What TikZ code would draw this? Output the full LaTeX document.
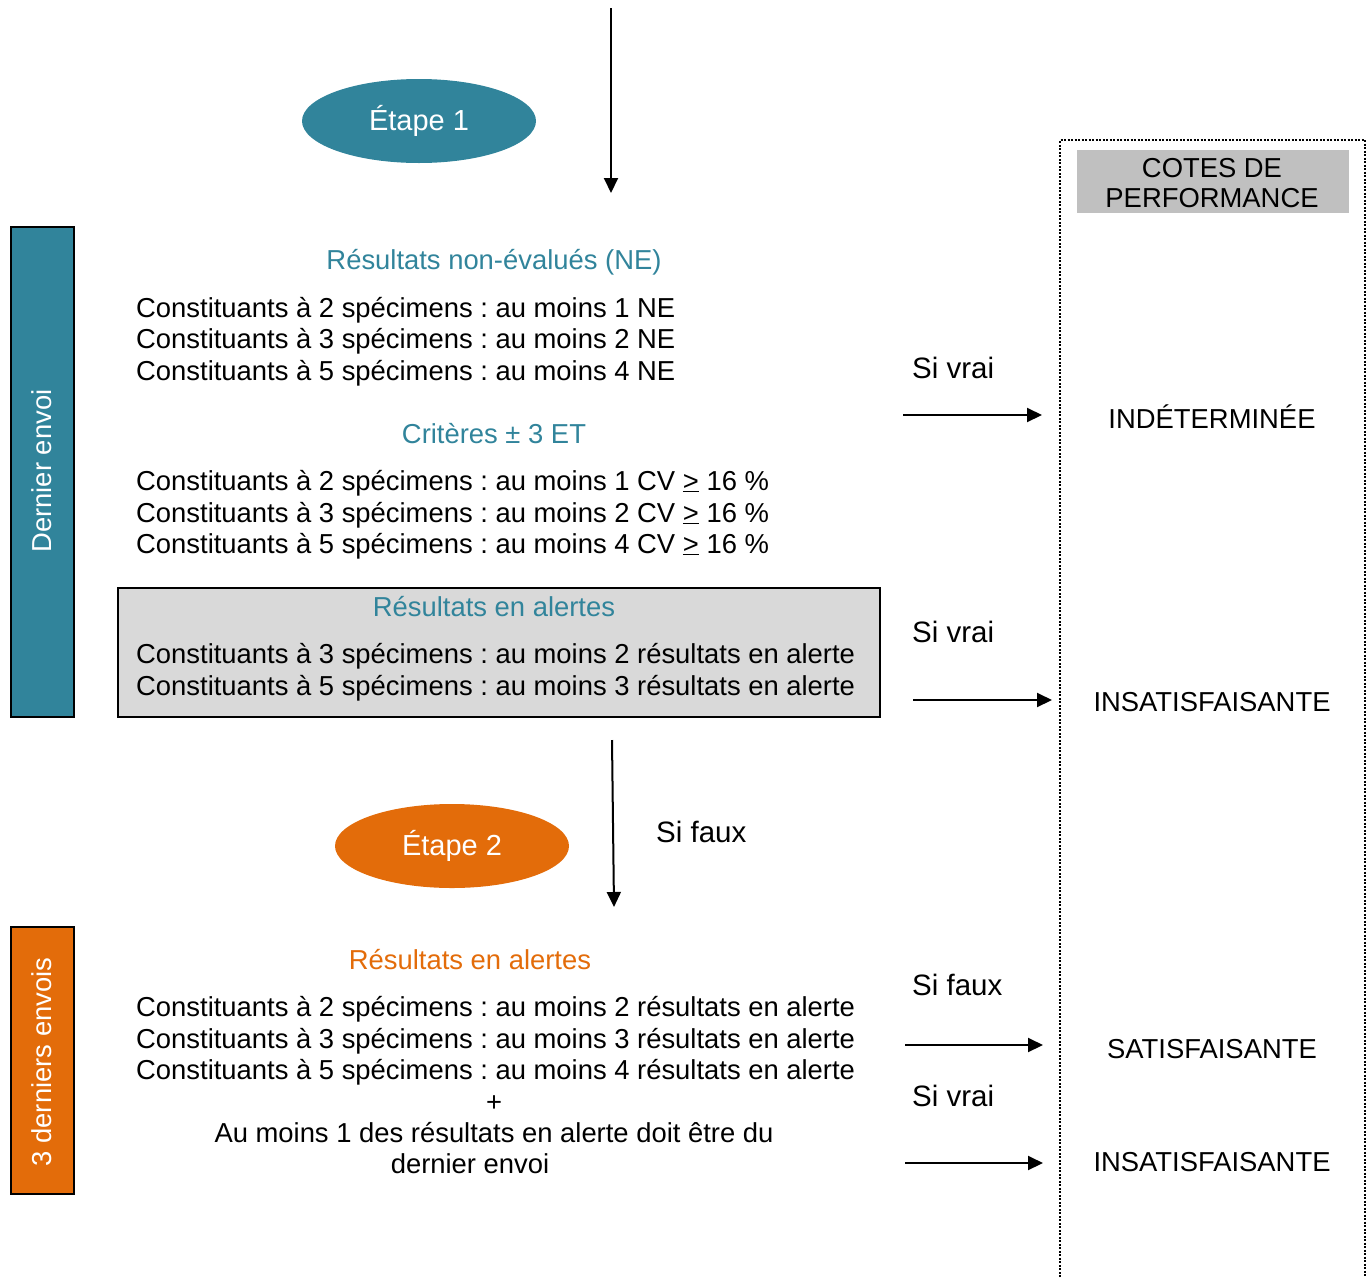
\documentclass[tikz,border=0pt]{standalone}
\usepackage{fontspec}
\setmainfont{Liberation Sans}
\usetikzlibrary{arrows.meta,shapes.geometric}
\definecolor{teal1}{HTML}{31849B}
\definecolor{orange1}{HTML}{E36C0A}
\definecolor{graybox}{HTML}{D9D9D9}
\definecolor{grayhead}{HTML}{C0C0C0}
\frenchspacing
\tikzset{
  txt/.style={font=\fontsize{27.4}{31.5}\selectfont\frenchspacing, inner sep=0pt},
  line/.style={txt, anchor=base west},
  ctr/.style={txt, anchor=base},
  lbl/.style={font=\fontsize{29.5}{33}\selectfont, inner sep=0pt, anchor=base west},
  arr/.style={line width=2pt, -{Triangle[length=15pt,width=14pt]}},
  etape/.style={ellipse, minimum width=234pt, minimum height=84pt, text=white, font=\fontsize{29}{33}\selectfont, inner sep=0pt},
  sidebar/.style={draw=black, line width=2pt},
}
\begin{document}
\begin{tikzpicture}[x=1pt,y=-1pt]
\useasboundingbox (0,0) rectangle (1368,1277);
% performance column
\draw[line width=1.5pt, dash pattern=on 2pt off 1.5pt] (1060,1277) -- (1060,140) -- (1365,140) -- (1365,1277);
\node[fill=grayhead, minimum width=272pt, minimum height=63pt, anchor=north west, inner sep=0pt] (head) at (1077,150) {};
\node[ctr] (h1) at (1212,177) {COTES DE};
\node[ctr] (h2) at (1212,207) {PERFORMANCE};
% side bars
\draw[sidebar, fill=teal1] (11,227) rectangle (74,717);
\node[txt, rotate=90, text=white] (dernier) at (42,471) {Dernier envoi};
\draw[sidebar, fill=orange1] (11,927) rectangle (74,1194);
\node[txt, rotate=90, text=white] (trois) at (42,1062) {3 derniers envois};
% ellipses
\node[etape, fill=teal1] (e1) at (419,121) {Étape 1};
\node[etape, fill=orange1] (e2) at (452,846) {Étape 2};
% top arrow
\coordinate (t0) at (611,8);
\coordinate (t1) at (611,193);
\draw[arr] (t0) -- (t1);
% block 1
\node[ctr, text=teal1] (ne) at (494,269) {Résultats non-évalués (NE)};
\node[line] (l1) at (136,317) {Constituants à 2 spécimens : au moins 1 NE};
\node[line] (l2) at (136,348) {Constituants à 3 spécimens : au moins 2 NE};
\node[line] (l3) at (136,380) {Constituants à 5 spécimens : au moins 4 NE};
\node[ctr, text=teal1] (crit) at (494,443) {Critères ± 3 ET};
\node[line] (l4) at (136,490) {Constituants à 2 spécimens : au moins 1 CV \underline{>} 16 \%};
\node[line] (l5) at (136,522) {Constituants à 3 spécimens : au moins 2 CV \underline{>} 16 \%};
\node[line] (l6) at (136,553) {Constituants à 5 spécimens : au moins 4 CV \underline{>} 16 \%};
\draw[line width=2pt, fill=graybox] (118,588) rectangle (880,717);
\node[ctr, text=teal1] (al1) at (494,616) {Résultats en alertes};
\node[line] (l7) at (136,663) {Constituants à 3 spécimens : au moins 2 résultats en alerte};
\node[line] (l8) at (136,695) {Constituants à 5 spécimens : au moins 3 résultats en alerte};
% right side, top
\node[lbl] (sv1) at (912,378) {Si vrai};
\coordinate (a1s) at (903,415);
\coordinate (a1e) at (1042,415);
\draw[arr] (a1s) -- (a1e);
\node[ctr] (ind) at (1212,428) {INDÉTERMINÉE};
\node[lbl] (sv2) at (912,642) {Si vrai};
\coordinate (a2s) at (913,700);
\coordinate (a2e) at (1052,700);
\draw[arr] (a2s) -- (a2e);
\node[ctr] (ins1) at (1212,711) {INSATISFAISANTE};
% middle arrow
\coordinate (m0) at (612,740);
\coordinate (m1) at (614,907);
\draw[arr] (m0) -- (m1);
\node[lbl] (sf1) at (656,842) {Si faux};
% block 2
\node[ctr, text=orange1] (al2) at (470,969) {Résultats en alertes};
\node[line] (l9) at (136,1016) {Constituants à 2 spécimens : au moins 2 résultats en alerte};
\node[line] (l10) at (136,1048) {Constituants à 3 spécimens : au moins 3 résultats en alerte};
\node[line] (l11) at (136,1079) {Constituants à 5 spécimens : au moins 4 résultats en alerte};
\node[ctr] (plus) at (494,1111) {+};
\node[ctr] (au) at (494,1142) {Au moins 1 des résultats en alerte doit être du};
\node[ctr] (de) at (470,1173) {dernier envoi};
% right side, bottom
\node[lbl] (sf2) at (912,995) {Si faux};
\coordinate (a3s) at (905,1045);
\coordinate (a3e) at (1043,1045);
\draw[arr] (a3s) -- (a3e);
\node[ctr] (sat) at (1212,1058) {SATISFAISANTE};
\node[lbl] (sv3) at (912,1106) {Si vrai};
\coordinate (a4s) at (905,1163);
\coordinate (a4e) at (1043,1163);
\draw[arr] (a4s) -- (a4e);
\node[ctr] (ins2) at (1212,1171) {INSATISFAISANTE};
\end{tikzpicture}
\end{document}
